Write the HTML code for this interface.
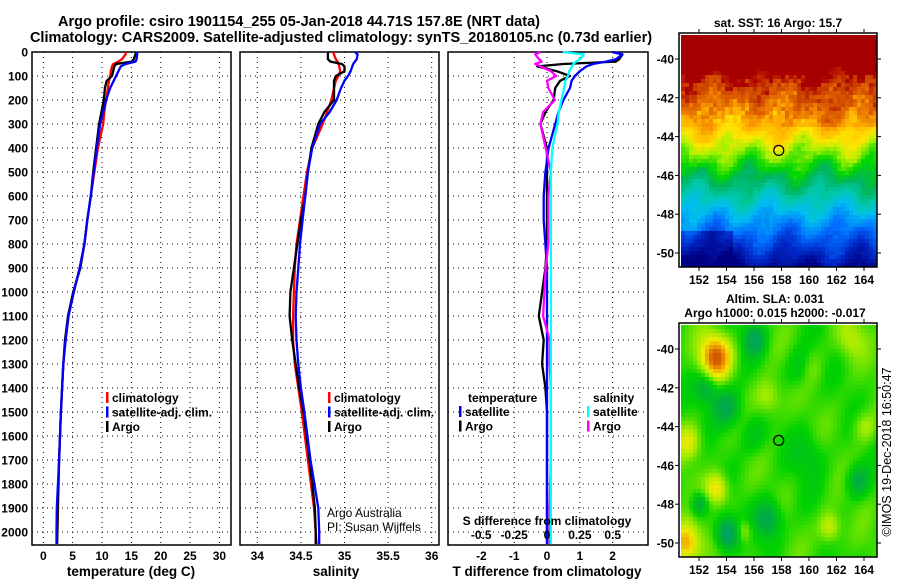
<!DOCTYPE html>
<html><head><meta charset="utf-8"><style>
html,body{margin:0;padding:0;background:#fff;}
svg{display:block;font-family:"Liberation Sans",sans-serif;}
.t{font-weight:bold;font-size:12px;}
.h{font-weight:bold;font-size:13.5px;}
.ti{font-weight:bold;font-size:14.5px;}
</style></head><body>
<svg id="fig" width="900" height="580" viewBox="0 0 900 580" xmlns="http://www.w3.org/2000/svg">
<text x="299" y="26" text-anchor="middle" class="ti">Argo profile: csiro 1901154_255 05-Jan-2018 44.71S 157.8E (NRT data)</text>
<text x="341" y="42" text-anchor="middle" class="ti">Climatology: CARS2009. Satellite-adjusted climatology: synTS_20180105.nc (0.73d earlier)</text>
<g id="p1"></g>
<g id="p2"></g>
<g id="p3"></g>
<g id="m1"></g>
<g id="m2"></g>
</svg>
<script>
const depths=[0,10,30,40,50,60,80,100,120,150,200,250,300,400,500,600,700,800,900,1000,1100,1200,1300,1400,1500,1700,1900,2000,2050];
const tempClim=[14.1,14.0,13.4,12.8,11.9,11.7,11.5,11.4,11.2,11.0,10.7,10.4,10.2,9.3,8.7,8.1,7.5,7.0,6.2,5.2,4.3,3.8,3.4,3.2,3.0,2.7,2.5,2.4,2.3];
const tempArgo=[15.8,15.7,15.4,15.1,12.4,12.1,11.9,11.7,10.8,10.5,10.3,9.9,9.5,9.0,8.5,8.1,7.5,7.0,6.3,5.1,4.2,3.7,3.4,3.2,3.0,2.7,2.45,2.4,2.35];
const tempSat=[16.0,16.0,15.9,15.7,14.0,13.2,12.8,12.4,12.0,11.4,10.7,10.2,9.7,9.1,8.6,8.1,7.5,7.0,6.2,5.2,4.3,3.8,3.4,3.2,3.0,2.7,2.3,2.25,2.25];
const salClim=[34.87,34.88,34.9,34.92,34.93,34.94,34.95,34.93,34.9,34.88,34.85,34.8,34.75,34.63,34.57,34.53,34.49,34.45,34.43,34.42,34.41,34.41,34.43,34.47,34.51,34.58,34.65,34.67,34.68];
const salArgo=[34.81,34.81,34.81,34.84,34.97,35.0,35.0,34.9,34.88,34.88,34.88,34.77,34.7,34.62,34.58,34.55,34.5,34.46,34.42,34.38,34.37,34.4,34.44,34.48,34.53,34.6,34.66,34.67,34.67];
const salSat=[35.12,35.15,35.14,35.12,35.1,35.09,35.07,35.04,35.0,34.96,34.91,34.83,34.72,34.63,34.58,34.55,34.52,34.49,34.47,34.45,34.44,34.45,34.47,34.5,34.54,34.61,34.7,34.71,34.71];
const dTArgo=[2.0,2.3,2.2,2.1,0.5,-0.3,0.3,0.7,0.4,0.25,0.2,-0.05,-0.2,0,0,0,0,0,-0.05,-0.15,-0.25,-0.1,-0.15,-0.05,0,0,0,0,0];
const dTSat=[2.0,2.3,2.1,1.8,1.4,1.2,1.0,0.85,0.75,0.7,0.5,0.35,0.25,0.05,-0.05,-0.1,-0.1,-0.05,0,0,0,0,0,0,0,0,0,0,0];
const dSSat=[0.12,0.28,0.25,0.22,0.2,0.19,0.17,0.16,0.14,0.13,0.11,0.09,0.08,0.04,0.03,0.03,0.03,0.03,0.03,0.03,0.03,0.03,0.03,0.03,0.03,0.03,0.03,0.03,0.03];
const dSArgo=[-0.05,-0.09,-0.06,-0.04,-0.09,-0.05,0.03,0.07,0,0.01,0.06,-0.03,-0.05,-0.01,0.03,0.01,0.01,0.01,-0.01,-0.02,-0.03,0.02,0.02,0.03,0.03,0.03,0.02,0.02,0.02];
const depthTicks=[0,100,200,300,400,500,600,700,800,900,1000,1100,1200,1300,1400,1500,1600,1700,1800,1900,2000];
const tempTicks=[0,5,10,15,20,25,30];
const salTicks=[34,34.5,35,35.5,36];
const dTTicks=[-2,-1,0,1,2];
const dSTicks=[-0.5,-0.25,0,0.25,0.5];
const lonTicks=[152,154,156,158,160,162,164];
const latTicks=[-40,-42,-44,-46,-48,-50];

const NS="http://www.w3.org/2000/svg";
function mk(p,tag,attrs,txt){const e=document.createElementNS(NS,tag);for(const k in attrs)e.setAttribute(k,attrs[k]);if(txt!==undefined)e.textContent=txt;p.appendChild(e);return e;}
const Y0=52,YB=545;
const yD=d=>Y0+d*0.24;

function panel(g,x0,x1,xs,xticks,lab){
  for(const t of xticks){const x=xs(t);mk(g,'line',{x1:x,x2:x,y1:Y0,y2:YB,stroke:'#000','stroke-width':1,'stroke-dasharray':'1 4'});}
  for(const d of depthTicks){const y=yD(d);mk(g,'line',{x1:x0,x2:x1,y1:y,y2:y,stroke:'#000','stroke-width':1,'stroke-dasharray':'1 4'});}
  const r=mk(g,'rect',{x:x0,y:Y0,width:x1-x0,height:YB-Y0,fill:'none',stroke:'#000','stroke-width':1.5});
  
  
  if(lab){for(const t of xticks){const tx=mk(g,'text',{x:xs(t),y:560,'text-anchor':'middle',class:'t'},String(t));
    
    }}
}
function line(g,xs,vals,col,name){
  const pts=vals.map((v,i)=>xs(v).toFixed(1)+','+yD(depths[i]).toFixed(1)).join(' ');
  const p=mk(g,'polyline',{points:pts,fill:'none',stroke:col,'stroke-width':2.3,'stroke-linejoin':'round'});
  
  
}
function legend(g,x,y,items){
  items.forEach((it,i)=>{mk(g,'rect',{x:x,y:y+i*14.5-10,width:2.5,height:11,fill:it[1]});
    const t=mk(g,'text',{x:x+6,y:y+i*14.5,class:'t'},it[0]);
    
    });
}
const p1=document.getElementById('p1');
const xT=v=>43.3+5.87*v;
panel(p1,32,231,xT,tempTicks,true);
for(const d of depthTicks){const t=mk(p1,'text',{x:28,y:yD(d)+4.5,'text-anchor':'end',class:'t'},String(d));
  
  }
line(p1,xT,tempClim,'#f00','temp-climatology-line');
line(p1,xT,tempArgo,'#000','temp-argo-line');
line(p1,xT,tempSat,'#00f','temp-satellite-line');
legend(p1,106,402,[['climatology','#f00'],['satellite-adj. clim.','#00f'],['Argo','#000']]);
mk(p1,'text',{x:131,y:576,'text-anchor':'middle',class:'h'},'temperature (deg C)');
const p2=document.getElementById('p2');
const xS=v=>257.3+87.2*(v-34);
panel(p2,240,439,xS,salTicks,true);
line(p2,xS,salClim,'#f00','sal-climatology-line');
line(p2,xS,salArgo,'#000','sal-argo-line');
line(p2,xS,salSat,'#00f','sal-satellite-line');
legend(p2,328,402,[['climatology','#f00'],['satellite-adj. clim.','#00f'],['Argo','#000']]);
mk(p2,'text',{x:336,y:576,'text-anchor':'middle',class:'h'},'salinity');
mk(p2,'text',{x:327,y:517,'font-size':12},'Argo Australia');
mk(p2,'text',{x:327,y:531,'font-size':12},'PI: Susan Wijffels');
const p3=document.getElementById('p3');
const xdT=v=>547+32.8*v;
const xdS=v=>547+131.5*v;
panel(p3,448,648,xdT,dTTicks,true);
line(p3,xdT,dTArgo,'#000','dt-argo-line');
line(p3,xdT,dTSat,'#00f','dt-satellite-line');
line(p3,xdS,dSArgo,'#f0f','ds-argo-line');
line(p3,xdS,dSSat,'#0ff','ds-satellite-line');
mk(p3,'text',{x:468,y:402,class:'t'},'temperature');
legend(p3,459,416,[['satellite','#00f'],['Argo','#000']]);
mk(p3,'text',{x:593,y:402,class:'t'},'salinity');
legend(p3,587,416,[['satellite','#0ff'],['Argo','#f0f']]);
mk(p3,'text',{x:547,y:525,'text-anchor':'middle',class:'t'},'S difference from climatology');
for(const t of dSTicks){const tx=mk(p3,'text',{x:xdS(t),y:539,'text-anchor':'middle',class:'t'},String(t));
  
  }
mk(p3,'text',{x:547,y:576,'text-anchor':'middle',class:'h'},'T difference from climatology');

function lerpC(stops,v){v=Math.max(0,Math.min(1,v));for(let i=1;i<stops.length;i++){if(v<=stops[i][0]){const a=stops[i-1],b=stops[i],f=(v-a[0])/(b[0]-a[0]);return 'rgb('+[1,2,3].map(k=>Math.round(a[k]+(b[k]-a[k])*f)).join(',')+')';}}const l=stops[stops.length-1];return 'rgb('+l[1]+','+l[2]+','+l[3]+')';}
function hash(a,b){let h=(a*374761393+b*668265263)|0;h=(h^(h>>>13))*1274126177|0;return ((h^(h>>>16))>>>0)/4294967295;}
const sstStops=[[0,0,0,130],[0.1,0,40,200],[0.2,0,110,255],[0.3,0,190,240],[0.38,0,200,170],[0.46,0,180,90],[0.52,0,215,0],[0.6,170,240,0],[0.66,255,230,0],[0.74,255,170,0],[0.82,230,110,0],[0.9,200,60,0],[0.95,170,0,0],[1,165,0,0]];
const slaStops=[[0,0,160,130],[0.25,0,170,70],[0.45,0,210,0],[0.62,160,235,0],[0.75,240,235,0],[0.88,240,160,0],[1,210,90,0]];
function mapFrame(g,x0,y0,lx,ly){
  mk(g,'rect',{x:x0,y:y0,width:198,height:234,fill:'none',stroke:'#000','stroke-width':1.5});
  for(const lo of lonTicks){const x=lx(lo);mk(g,'line',{x1:x,x2:x,y1:y0-4,y2:y0,stroke:'#000'});mk(g,'line',{x1:x,x2:x,y1:y0+234,y2:y0+238,stroke:'#000'});
    const t=mk(g,'text',{x:x,y:y0+251,'text-anchor':'middle',class:'t'},String(lo));
    
    }
  for(const la of latTicks){const y=ly(la);mk(g,'line',{x1:x0-4,x2:x0,y1:y,y2:y,stroke:'#000'});mk(g,'line',{x1:x0+198,x2:x0+202,y1:y,y2:y,stroke:'#000'});
    const t=mk(g,'text',{x:x0-5,y:y+4.5,'text-anchor':'end',class:'t'},String(la));
    
    }
  const c=mk(g,'circle',{cx:lx(157.8),cy:ly(-44.71),r:5,fill:'none',stroke:'#000','stroke-width':1.2});
  
  
}
const m1=document.getElementById('m1'),m2=document.getElementById('m2');
const lon=x=>152+(x-699)/13.75;
const cell=4;
{const lx=v=>699+13.75*(v-152),ly=v=>59+19.4*(-40-v);
 for(let y=35;y<266;y+=cell)for(let x=681;x<876;x+=cell){
   const la=-40-(y+2-59)/19.4,lo=lon(x+2);
   let v=(la+51)/10.5;
   v+=0.03*Math.sin(lo*1.3+la*0.9)+0.03*Math.sin(lo*2.2-la*1.7)+0.03*(hash(x,y)-0.5);
   if(la<-48.8&&lo<154.5)v-=0.08;
   if(la>-43.2&&la<-40.8)v+=0.06*(hash(x*3,y*5)-0.5)+(hash(x,y*7)<0.25?-0.04:0);
   if(lo>158&&la>-43.5&&la<-42)v+=0.04;
   mk(m1,'rect',{x:x,y:y,width:cell+0.5,height:cell+0.5,fill:lerpC(sstStops,v)});}
 mapFrame(m1,679,33,lx,ly);
 mk(m1,'text',{x:778,y:27,'text-anchor':'middle',class:'t'},'sat. SST: 16 Argo: 15.7');}
{const lx=v=>699+13.75*(v-152),ly=v=>349+19.4*(-40-v);
 const blobs=[[153.2,-40.4,0.5,1.1],[151.3,-44.8,0.22,0.9],[153.3,-47.2,0.3,0.8],[151,-50,0.4,1.0],[161.5,-49.2,0.22,0.8],[155.3,-49.4,0.18,0.6],[157,-42.5,0.18,1],[160,-41,0.15,0.9],[163,-39.5,0.15,1],[164,-44,0.15,0.8],
   [154,-49.5,-0.4,0.8],[154,-43,-0.3,1],[156,-39.5,-0.3,0.8],[152,-48,-0.28,0.6],[163.5,-46.8,-0.25,0.8],[157,-48.8,-0.3,1],[159.5,-41,-0.2,1],[152.5,-42,-0.25,0.8],[160,-45.5,-0.12,1.2],[156,-44.5,-0.12,1.0]];
 for(let y=325;y<556;y+=cell)for(let x=681;x<876;x+=cell){
   const la=-40-(y+2-349)/19.4,lo=lon(x+2);
   let v=0.5+0.04*Math.sin(lo*1.1+la*0.7)+0.03*Math.sin(lo*1.9-la*1.5);
   for(const b of blobs){const d2=((lo-b[0])**2+(la-b[1])**2)/(b[3]*b[3]);v+=b[2]*Math.exp(-d2);}
   mk(m2,'rect',{x:x,y:y,width:cell+0.5,height:cell+0.5,fill:lerpC(slaStops,v)});}
 mapFrame(m2,679,323,lx,ly);
 mk(m2,'text',{x:775,y:303,'text-anchor':'middle',class:'t'},'Altim. SLA: 0.031');
 mk(m2,'text',{x:775,y:317,'text-anchor':'middle',class:'t'},'Argo h1000: 0.015 h2000: -0.017');
 mk(m2,'text',{x:0,y:0,'text-anchor':'middle','font-size':12.5,transform:'translate(891,452) rotate(-90)'},'\u00a9IMOS 19-Dec-2018 16:50:47');}
</script>
</body></html>
